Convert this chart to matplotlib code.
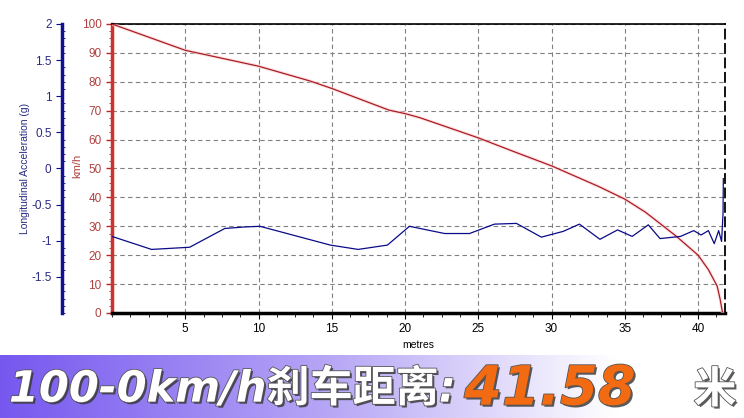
import numpy as np
import matplotlib.pyplot as plt
import matplotlib.patheffects as pe
from matplotlib.colors import LinearSegmentedColormap
from matplotlib.ticker import MultipleLocator

# speed trace (km/h) against distance (m)
speed_dist = [0, 5, 10, 13.5, 15, 18.9, 20, 21, 25, 27.5, 30, 33.2, 35, 36.4,
              38.5, 40, 40.7, 41.3, 41.5, 41.65]
speed_kmh = [100, 90.9, 85.4, 80.3, 77.7, 70.2, 69, 67.6, 60.6, 55.7, 50.9,
             43.8, 39.4, 34.9, 26.6, 20, 15, 9.3, 4.8, 0.5]

# longitudinal acceleration (g) against distance (m)
acc_dist = [0, 2.7, 5.3, 7.7, 9.0, 10.1, 14.9, 16.8, 18.8, 20.3, 22.7, 24.4,
            26.1, 27.6, 29.3, 30.8, 31.9, 33.3, 34.5, 35.5, 36.6, 37.4, 38.8,
            39.7, 40.2, 40.7, 41.1, 41.4, 41.6, 41.7, 41.72]
acc_g = [-0.94, -1.12, -1.09, -0.83, -0.81, -0.80, -1.06, -1.12, -1.06, -0.80,
         -0.90, -0.90, -0.77, -0.76, -0.95, -0.87, -0.77, -0.98, -0.85, -0.94,
         -0.78, -0.97, -0.94, -0.86, -0.92, -0.86, -1.04, -0.86, -1.01, -0.62,
         -0.14]

speed_ticks = [0, 10, 20, 30, 40, 50, 60, 70, 80, 90, 100]
acc_ticks = [-1.5, -1, -0.5, 0, 0.5, 1, 1.5, 2]
dist_ticks = [5, 10, 15, 20, 25, 30, 35, 40]

banner_main = "100-0km/h刹车距离:"
banner_value = "41.58"
banner_unit = "米"

RED = '#b8262b'
NAVY = '#0a0a8a'

plt.rcParams['font.family'] = ['Liberation Sans', 'DejaVu Sans']

fig = plt.figure(figsize=(7.44, 4.18), dpi=100)

ax = fig.add_axes([0.1505, 0.2512, 0.8233, 0.6914])
ax.set_xlim(0, 41.8)
ax.set_ylim(0, 100)

# speed on the red axis
ax.plot(speed_dist, speed_kmh, color='#ffd0d0', lw=2.5, alpha=0.6, zorder=3)
ax.plot(speed_dist, speed_kmh, color='#a81c26', lw=0.9, zorder=4)

ax.set_yticks(speed_ticks)
ax.set_xticks(dist_ticks)
ax.xaxis.set_minor_locator(MultipleLocator(1.25))
ax.yaxis.set_minor_locator(MultipleLocator(2.5))
ax.grid(True, which='major', ls=(0, (4, 3)), color='#808080', lw=0.8)
ax.tick_params(axis='y', which='major', colors=RED, labelcolor='#b04040',
               labelsize=8.5, length=4, width=1)
ax.tick_params(axis='y', which='minor', colors=RED, length=2)
ax.tick_params(axis='x', which='major', labelsize=8.5, length=4, direction='out')
ax.tick_params(axis='x', which='minor', length=3, direction='out')
ax.spines['left'].set_color('#d03030')
ax.spines['left'].set_linewidth(2.5)
ax.spines['bottom'].set_linewidth(2.5)
ax.spines['top'].set_linewidth(1.2)
ax.spines['right'].set_linestyle((0, (5, 3)))
ax.spines['right'].set_linewidth(1.3)
ax.set_ylabel('km/h', color='#b04040', fontsize=8)
ax.yaxis.set_label_coords(-0.049, 0.51)
ax.set_xlabel('metres', fontsize=7.5, labelpad=3)

# acceleration on the blue axis, drawn over the same plot area
ax2 = ax.twinx()
ax2.set_ylim(-2, 2)
ax2.plot(acc_dist, acc_g, color=NAVY, lw=0.9, zorder=5)
ax2.spines['right'].set_visible(False)
ax2.spines['top'].set_visible(False)
ax2.spines['bottom'].set_visible(False)
ax2.spines['left'].set_visible(True)
ax2.spines['left'].set_position(('axes', -0.0816))
ax2.spines['left'].set_color('#101090')
ax2.spines['left'].set_linewidth(2.5)
ax2.yaxis.set_ticks_position('left')
ax2.yaxis.set_label_position('left')
ax2.set_yticks(acc_ticks)
ax2.set_yticklabels([f'{t:g}' for t in acc_ticks])
ax2.yaxis.set_minor_locator(MultipleLocator(0.1))
ax2.tick_params(axis='y', which='major', colors=NAVY, labelcolor='#2a2a80',
                labelsize=8.5, length=4)
ax2.tick_params(axis='y', which='minor', colors=NAVY, length=2, direction='in')
ax2.set_ylabel('Longitudinal Acceleration (g)', color='#2a2a80', fontsize=7.5)
ax2.yaxis.set_label_coords(-0.134, 0.5)

# banner with gradient
bax = fig.add_axes([0, 0, 1, 63 / 418])
grad = np.linspace(0, 1, 256)[None, :]
cmap = LinearSegmentedColormap.from_list(
    'banner', [(0, '#7658ef'), (0.45, '#b8a8f6'), (0.83, '#ffffff'), (1, '#ffffff')])
bax.imshow(grad, aspect='auto', cmap=cmap, extent=[0, 1, 0, 1])
bax.set_xlim(0, 1)
bax.set_ylim(0, 1)
bax.axis('off')

shadow = [pe.withSimplePatchShadow(offset=(1.5, -1.5), shadow_rgbFace='#333333', alpha=0.8),
          pe.withStroke(linewidth=1.2, foreground='#555555')]
fam = ['DejaVu Sans', 'Noto Sans CJK SC']
bax.text(0.012, 0.45, banner_main, color='white', fontsize=31, fontweight='bold',
         style='italic', family=fam, va='center', ha='left', path_effects=shadow)
bax.text(0.624, 0.45, banner_value, color='#f26a12', fontsize=39, fontweight='bold',
         style='italic', family=fam, va='center', ha='left', path_effects=shadow)
bax.text(0.932, 0.45, banner_unit, color='white', fontsize=31, fontweight='bold',
         family=['Noto Sans CJK SC', 'DejaVu Sans'], va='center', ha='left',
         path_effects=shadow)

fig.savefig('out.png', dpi=100)
